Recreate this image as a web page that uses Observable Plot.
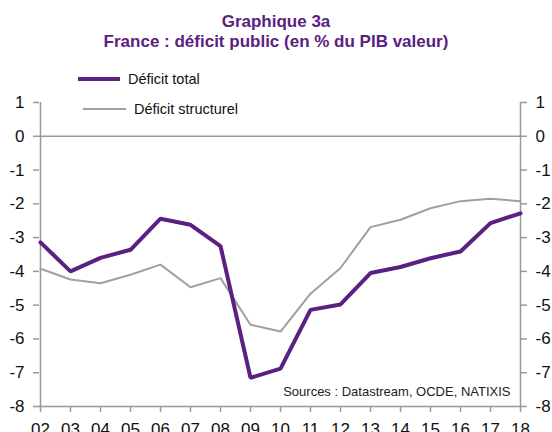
<!DOCTYPE html>
<html>
<head>
<meta charset="utf-8">
<script src="https://cdn.jsdelivr.net/npm/d3@7"></script>
<script src="https://cdn.jsdelivr.net/npm/@observablehq/plot@0.6"></script>
<style>
  body { margin: 0; background: #fff; font-family: Arial, "Liberation Sans", sans-serif; }
  #wrap { position: relative; width: 552px; height: 432px; overflow: hidden; }
  #title { height: 62px; box-sizing: border-box; padding-top: 12px; padding-left: 0; text-align: center;
           color: #5B2181; font-weight: bold; font-size: 17px; line-height: 20px; white-space: nowrap; }
  .leg { position: absolute; font-size: 14.5px; color: #111; display: flex; align-items: center; }
  .sw { display: inline-block; margin-right: 8px; }
</style>
</head>
<body>
<div id="wrap">
  <div id="title">Graphique 3a<br>France : déficit public (en % du PIB valeur)</div>
  <div id="chart"></div>
  <div class="leg" style="left:78px; top:71px;"><span class="sw" style="width:42px;height:4px;background:#5B2181"></span>Déficit total</div>
  <div class="leg" style="left:83px; top:101px;"><span class="sw" style="width:43px;height:2px;background:#A0A0A0"></span>Déficit structurel</div>
</div>
<script>
const years = ["02","03","04","05","06","07","08","09","10","11","12","13","14","15","16","17","18"];
const deficitTotal = [-3.14, -4.0, -3.6, -3.36, -2.44, -2.62, -3.25, -7.15, -6.88, -5.14, -4.98, -4.05, -3.87, -3.61, -3.41, -2.57, -2.28];
const deficitStructurel = [-3.92, -4.24, -4.35, -4.1, -3.8, -4.47, -4.2, -5.58, -5.78, -4.66, -3.9, -2.69, -2.47, -2.13, -1.92, -1.85, -1.92];
const yTicks = [1, 0, -1, -2, -3, -4, -5, -6, -7, -8];
const source = "Sources : Datastream, OCDE, NATIXIS";

const total = years.map((y, i) => ({year: y, value: deficitTotal[i]}));
const struct = years.map((y, i) => ({year: y, value: deficitStructurel[i]}));

const axisColor = "#999";
const fmt = d => String(d);
const chart = Plot.plot({
  width: 552,
  height: 370,
  marginLeft: 39,
  marginRight: 32,
  marginTop: 40,
  marginBottom: 26,
  style: {fontFamily: "Arial, 'Liberation Sans', sans-serif", fontSize: "17px", color: "#111", background: "#fff", overflow: "visible"},
  x: {type: "point", domain: years, padding: 0, label: null},
  y: {domain: [-8, 1], label: null},
  marks: [
    Plot.ruleY([0], {stroke: axisColor, strokeWidth: 1.5}),
    Plot.ruleX([years[0], years[years.length - 1]], {stroke: axisColor, strokeWidth: 1.5}),
    Plot.ruleY([-8], {stroke: axisColor, strokeWidth: 1.5}),
    Plot.axisY({anchor: "left", ticks: yTicks, tickFormat: fmt, tickSize: 6, tickPadding: 9, stroke: axisColor, strokeWidth: 1.5, fill: "#111", label: null}),
    Plot.axisY({anchor: "right", ticks: yTicks, tickFormat: fmt, tickSize: 6, tickPadding: 9, stroke: axisColor, strokeWidth: 1.5, fill: "#111", label: null}),
    Plot.axisX({anchor: "bottom", ticks: years, tickSize: 6, tickPadding: 10, stroke: axisColor, strokeWidth: 1.5, fill: "#111", label: null}),
    Plot.line(struct, {x: "year", y: "value", stroke: "#A0A0A0", strokeWidth: 2}),
    Plot.line(total, {x: "year", y: "value", stroke: "#5B2181", strokeWidth: 4, strokeLinejoin: "miter"}),
    Plot.text([source], {text: d => d, frameAnchor: "bottom-right", dx: -10, dy: -11, fontSize: 13, fill: "#222"})
  ]
});
document.getElementById("chart").appendChild(chart);
</script>
</body>
</html>
